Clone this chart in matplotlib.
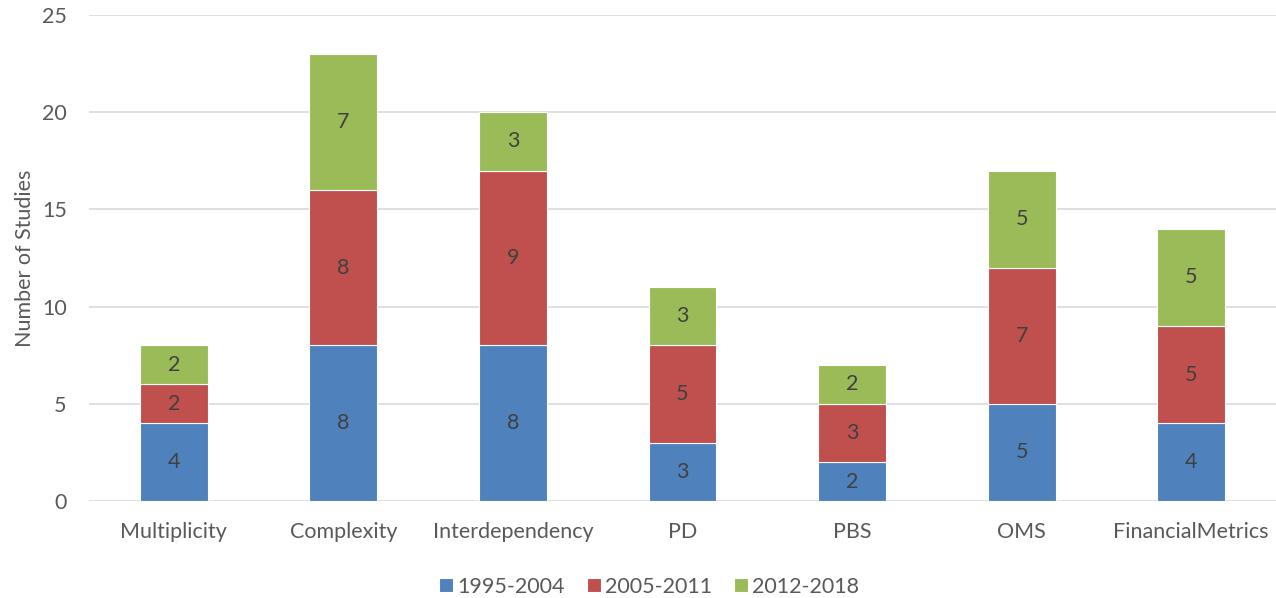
import matplotlib
matplotlib.use("Agg")
import matplotlib.pyplot as plt
import numpy as np

categories = ["Multiplicity", "Complexity", "Interdependency", "PD", "PBS", "OMS", "FinancialMetrics"]
periods = ["1995-2004", "2005-2011", "2012-2018"]
values_1995_2004 = [4, 8, 8, 3, 2, 5, 4]
values_2005_2011 = [2, 8, 9, 5, 3, 7, 5]
values_2012_2018 = [2, 7, 3, 3, 2, 5, 5]
colors = ["#4f81bd", "#c0504d", "#9bbb59"]

plt.rcParams["font.family"] = ["Lato", "DejaVu Sans"]

fig = plt.figure(figsize=(12.76, 5.98), dpi=100)
ax = fig.add_axes([0.0697, 0.1622, 0.9303, 0.8127])

x = np.arange(len(categories))
bottom = np.zeros(len(categories))
for series, color, label in zip([values_1995_2004, values_2005_2011, values_2012_2018], colors, periods):
    vals = np.array(series, dtype=float)
    ax.bar(x, vals, width=0.4, bottom=bottom, color=color, label=label,
           edgecolor="white", linewidth=0.8, zorder=3)
    for xi, b, v in zip(x, bottom, vals):
        ax.text(xi, b + v / 2, f"{int(v)}", ha="center", va="center",
                fontsize=15.5, color="#404040", zorder=4)
    bottom += vals

ax.set_xlim(-0.5, len(categories) - 0.5)
ax.set_ylim(0, 25)
ax.set_yticks(range(0, 26, 5))
ax.set_xticks(x)
ax.set_xticklabels(categories)
ax.grid(axis="y", color="#d9d9d9", linewidth=1.2, zorder=0)
for s in ["top", "right", "left", "bottom"]:
    ax.spines[s].set_visible(False)
ax.tick_params(axis="both", length=0, labelsize=15.5, colors="#595959")
ax.tick_params(axis="x", pad=15)
ax.tick_params(axis="y", pad=16)
ax.set_ylabel("Number of Studies", fontsize=15.5, color="#595959", labelpad=5)

ax.legend(loc="upper center", bbox_to_anchor=(0.472, -0.116), ncol=3, frameon=False,
          fontsize=15.5, handlelength=0.65, handleheight=0.65, handletextpad=0.2,
          columnspacing=1.0, labelcolor="#595959")

fig.savefig("out.png", dpi=100)
